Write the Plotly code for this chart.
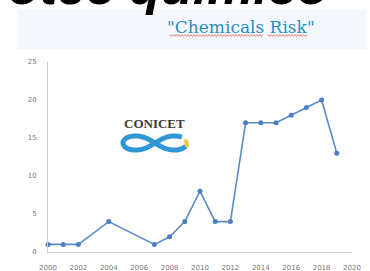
import plotly.graph_objects as go
import numpy as np

years = [2000, 2001, 2002, 2004, 2007, 2008, 2009, 2010, 2011, 2012, 2013, 2014, 2015, 2016, 2017, 2018, 2019]
counts = [1, 1, 1, 4, 1, 2, 4, 8, 4, 4, 17, 17, 17, 18, 19, 20, 13]
x_ticks = [2000, 2002, 2004, 2006, 2008, 2010, 2012, 2014, 2016, 2018, 2020]
y_ticks = [0, 5, 10, 15, 20, 25]

W, H = 370, 271
L, R, T, B = 48, 18, 62, 19
PW, PH = W - L - R, H - T - B

def px(x):
    return (x - L) / PW

def py(y):
    return (H - B - y) / PH

fig = go.Figure()
fig.add_trace(go.Scatter(
    x=years, y=counts, mode="lines+markers",
    line=dict(color="#5a8ccb", width=1.6),
    marker=dict(color="#4a7fc1", size=5),
    hoverinfo="skip", showlegend=False, cliponaxis=False,
))

shapes = []
# title band
shapes.append(dict(type="rect", xref="paper", yref="paper",
                   x0=px(18), x1=px(366), y0=py(49), y1=py(10),
                   fillcolor="#f4f7fb", line=dict(width=0), layer="below"))

# wavy spell-check underline under the title words
for x0, x1 in [(170, 263), (268, 307)]:
    xs = np.arange(x0, x1 + 0.1, 1.5)
    ys = 35.5 + 0.9 * np.where(np.arange(len(xs)) % 2 == 0, -1, 1)
    p = "M " + " L ".join(f"{px(a):.4f},{py(b):.4f}" for a, b in zip(xs, ys))
    shapes.append(dict(type="path", xref="paper", yref="paper", path=p,
                       line=dict(color="#e06060", width=0.8)))

# infinity logo (decoration)
cx, cy = 155, 143
t = np.linspace(0.15, 2 * np.pi - 0.35, 80)
xs = cx + 32 * np.cos(t) / (1 + np.sin(t) ** 2)
ys = cy + 20 * np.sin(t) * np.cos(t) / (1 + np.sin(t) ** 2)
path = "M " + " L ".join(f"{px(a):.4f},{py(b):.4f}" for a, b in zip(xs, ys))
shapes.append(dict(type="path", xref="paper", yref="paper", path=path,
                   line=dict(color="#2f97d4", width=5)))
t2 = np.linspace(-0.9, 0.6, 20)
xs2 = cx + 25 + 7 * np.cos(t2)
ys2 = cy + 1 + 5 * np.sin(t2)
path2 = "M " + " L ".join(f"{px(a):.4f},{py(b):.4f}" for a, b in zip(xs2, ys2))
shapes.append(dict(type="path", xref="paper", yref="paper", path=path2,
                   line=dict(color="#f5c842", width=4)))

annotations = [
    dict(text="<b><i>otec químico</i></b>", xref="paper", yref="paper",
         x=px(168), y=py(-14), xanchor="center", yanchor="middle",
         showarrow=False, font=dict(family="Liberation Sans", size=52, color="#000000")),
    dict(text="\"Chemicals Risk\"", xref="paper", yref="paper",
         x=px(241), y=py(27), xanchor="center", yanchor="middle",
         showarrow=False, font=dict(family="DejaVu Serif", size=17, color="#2a8fc0")),
    dict(text="<b>CONICET</b>", xref="paper", yref="paper",
         x=px(154), y=py(123), xanchor="center", yanchor="middle",
         showarrow=False, font=dict(family="Liberation Serif", size=13, color="#3a3a3a")),
]

fig.update_layout(
    width=W, height=H,
    margin=dict(l=L, r=R, t=T, b=B, pad=0, autoexpand=False),
    paper_bgcolor="#ffffff", plot_bgcolor="rgba(0,0,0,0)",
    shapes=shapes, annotations=annotations,
    xaxis=dict(range=[2000, 2020], tickvals=x_ticks, showgrid=False, zeroline=False,
               showline=True, linecolor="#d0d0d0", linewidth=1, automargin=False,
               tickfont=dict(family="DejaVu Sans", size=7, color="#777777"),
               ticks="outside", ticklen=9, tickcolor="rgba(0,0,0,0)"),
    yaxis=dict(range=[0, 25], tickvals=y_ticks, showgrid=False, zeroline=False,
               showline=True, linecolor="#d0d0d0", linewidth=1, automargin=False,
               tickfont=dict(family="DejaVu Sans", size=7, color="#777777"),
               ticks="outside", ticklen=9, tickcolor="rgba(0,0,0,0)"),
    font=dict(family="DejaVu Sans"),
)
fig.write_html("out.html", config={"displayModeBar": False},
               post_script="document.body.style.margin='0';")
